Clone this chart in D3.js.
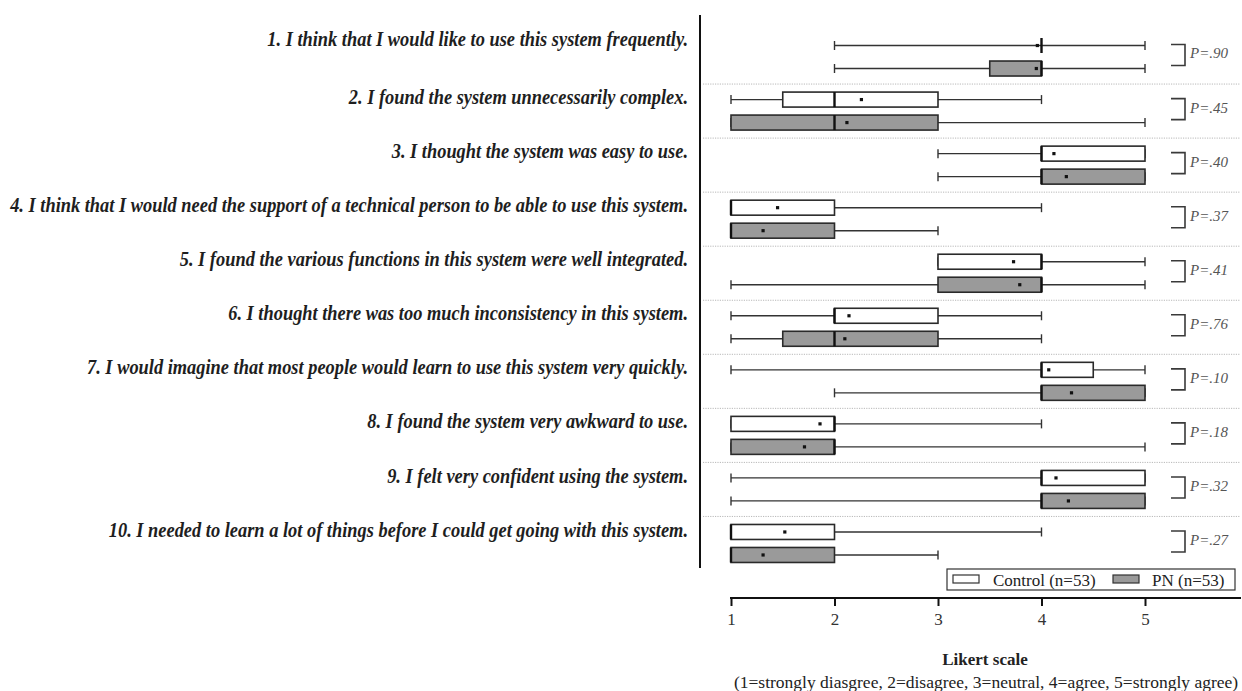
<!DOCTYPE html>
<html>
<head>
<meta charset="utf-8">
<script src="https://cdn.jsdelivr.net/npm/d3@7"></script>
<style>
  html, body { margin: 0; padding: 0; background: #fff; }
  svg { display: block; }
</style>
</head>
<body>
<svg id="chart" width="1242" height="691"></svg>
<script>
// SUS questionnaire items
const questions = [
  "1. I think that I would like to use this system frequently.",
  "2. I found the system unnecessarily complex.",
  "3. I thought the system was easy to use.",
  "4. I think that I would need the support of a technical person to be able to use this system.",
  "5. I found the various functions in this system were well integrated.",
  "6. I thought there was too much inconsistency in this system.",
  "7. I would imagine that most people would learn to use this system very quickly.",
  "8. I found the system very awkward to use.",
  "9. I felt very confident using the system.",
  "10. I needed to learn a lot of things before I could get going with this system."
];

const groups = ["Control (n=53)", "PN (n=53)"];
const likertTicks = [1, 2, 3, 4, 5];

// five-number summaries per item: [min, q1, median, q3, max]
const controlBox = [
  [2, 4, 4, 4, 5],
  [1, 1.5, 2, 3, 4],
  [3, 4, 4, 5, 5],
  [1, 1, 1, 2, 4],
  [3, 3, 4, 4, 5],
  [1, 2, 2, 3, 4],
  [1, 4, 4, 4.5, 5],
  [1, 1, 2, 2, 4],
  [1, 4, 4, 5, 5],
  [1, 1, 1, 2, 4]
];
const controlMean = [3.96, 2.26, 4.12, 1.45, 3.73, 2.14, 4.07, 1.86, 4.14, 1.52];

const pnBox = [
  [2, 3.5, 4, 4, 5],
  [1, 1, 2, 3, 5],
  [3, 4, 4, 5, 5],
  [1, 1, 1, 2, 3],
  [1, 3, 4, 4, 5],
  [1, 1.5, 2, 3, 4],
  [2, 4, 4, 5, 5],
  [1, 1, 2, 2, 5],
  [1, 4, 4, 5, 5],
  [1, 1, 1, 2, 3]
];
const pnMean = [3.95, 2.12, 4.24, 1.31, 3.79, 2.10, 4.29, 1.71, 4.26, 1.31];

const pValues = [".90", ".45", ".40", ".37", ".41", ".76", ".10", ".18", ".32", ".27"];

// ---- layout ----
const svg = d3.select("#chart");
const serif = "'Liberation Serif', 'Times New Roman', serif";
const fills = ["#ffffff", "#9a9a9a"];

const x = d3.scaleLinear().domain([1, 5]).range([731, 1145]);
const y = d3.scaleBand().domain(d3.range(questions.length)).range([30, 570.5]);
const yInner = d3.scalePoint().domain([0, 1]).range([-11.5, 11.5]);
const rowMid = i => y(i) + y.bandwidth() / 2;
const rowY = (i, g) => rowMid(i) + yInner(g);

const boxH = 15, capH = 9;

// dotted separators between items
svg.append("g")
  .selectAll("line")
  .data(d3.range(questions.length - 1))
  .join("line")
  .attr("x1", 703).attr("x2", 1240)
  .attr("y1", i => y(i) + y.bandwidth())
  .attr("y2", i => y(i) + y.bandwidth())
  .attr("stroke", "#b8b8b8")
  .attr("stroke-width", 1)
  .attr("stroke-dasharray", "1.2,1.2");

// vertical axis line
svg.append("line")
  .attr("x1", 700).attr("x2", 700)
  .attr("y1", 15).attr("y2", 568)
  .attr("stroke", "#111").attr("stroke-width", 2);

// item labels: tall, slightly condensed bold italic serif
svg.append("g")
  .selectAll("g")
  .data(questions)
  .join("g")
  .attr("transform", (d, i) => `translate(688,${rowY(i, 0) - (i === 0 ? 4 : 0)}) scale(0.92,1)`)
  .append("text")
  .attr("text-anchor", "end")
  .attr("dominant-baseline", "middle")
  .attr("font-family", serif)
  .attr("font-weight", "bold")
  .attr("font-style", "italic")
  .attr("font-size", 20)
  .attr("fill", "#1e1e1e")
  .text(d => d);

// boxplot records
const records = [];
questions.forEach((q, i) => {
  [controlBox, pnBox].forEach((src, g) => {
    const [mn, q1, med, q3, mx] = src[i];
    records.push({ i, g, mn, q1, med, q3, mx, mean: (g === 0 ? controlMean : pnMean)[i] });
  });
});

const plot = svg.append("g");
const box = plot.selectAll("g.box")
  .data(records)
  .join("g")
  .attr("class", "box")
  .attr("transform", d => `translate(0,${rowY(d.i, d.g)})`);

// whiskers
box.append("line")
  .attr("x1", d => x(d.mn)).attr("x2", d => x(d.mx))
  .attr("y1", 0).attr("y2", 0)
  .attr("stroke", "#333").attr("stroke-width", 1.4);
box.selectAll("line.cap")
  .data(d => [d.mn, d.mx])
  .join("line")
  .attr("class", "cap")
  .attr("x1", v => x(v)).attr("x2", v => x(v))
  .attr("y1", -capH / 2).attr("y2", capH / 2)
  .attr("stroke", "#333").attr("stroke-width", 1.4);

// interquartile boxes
box.filter(d => d.q3 > d.q1)
  .append("rect")
  .attr("x", d => x(d.q1))
  .attr("width", d => x(d.q3) - x(d.q1))
  .attr("y", -boxH / 2)
  .attr("height", boxH)
  .attr("fill", d => fills[d.g])
  .attr("stroke", "#2a2a2a")
  .attr("stroke-width", 1.6);

// medians
box.append("line")
  .attr("x1", d => x(d.med)).attr("x2", d => x(d.med))
  .attr("y1", -boxH / 2).attr("y2", boxH / 2)
  .attr("stroke", "#111").attr("stroke-width", 2.4);

// means
box.append("rect")
  .attr("x", d => x(d.mean) - 1.6)
  .attr("y", -1.6)
  .attr("width", 3.2).attr("height", 3.2)
  .attr("fill", "#111");

// p-value brackets
const pg = svg.append("g")
  .selectAll("g")
  .data(pValues)
  .join("g");
pg.append("path")
  .attr("d", (p, i) => {
    const t = rowY(i, 0) - 1, b = rowY(i, 1) - 3;
    return `M1171,${t}H1185V${b}H1171`;
  })
  .attr("fill", "none")
  .attr("stroke", "#3a3a3a")
  .attr("stroke-width", 1.6);
pg.append("text")
  .attr("x", 1190)
  .attr("y", (p, i) => (rowY(i, 0) + rowY(i, 1)) / 2 - 2)
  .attr("dominant-baseline", "middle")
  .attr("font-family", serif)
  .attr("font-style", "italic")
  .attr("font-size", 15)
  .attr("fill", "#555")
  .text(p => `P=${p}`);

// legend
const legend = svg.append("g");
legend.append("rect")
  .attr("x", 947).attr("y", 569)
  .attr("width", 288).attr("height", 21)
  .attr("fill", "#fff").attr("stroke", "#333").attr("stroke-width", 1.2);
const legendItems = [
  { label: groups[0], sx: 953, tx: 993 },
  { label: groups[1], sx: 1113, tx: 1152 }
];
legend.selectAll("rect.sw")
  .data(legendItems)
  .join("rect")
  .attr("class", "sw")
  .attr("x", d => d.sx).attr("y", 575)
  .attr("width", 26).attr("height", 8)
  .attr("fill", (d, k) => fills[k])
  .attr("stroke", "#333").attr("stroke-width", 1.2);
legend.selectAll("text")
  .data(legendItems)
  .join("text")
  .attr("x", d => d.tx).attr("y", 585.5)
  .attr("font-family", serif)
  .attr("font-size", 17)
  .attr("fill", "#222")
  .text(d => d.label);

// bottom Likert axis
const axisY = 598;
const axis = svg.append("g")
  .attr("transform", `translate(0,${axisY})`)
  .call(d3.axisBottom(x).tickValues(likertTicks).tickSize(8).tickSizeOuter(0).tickPadding(7).tickFormat(d3.format("d")));
axis.select(".domain").remove();
axis.append("line")
  .attr("x1", x.range()[0] - 1).attr("x2", 1241)
  .attr("stroke", "#111").attr("stroke-width", 2);
axis.selectAll(".tick line").attr("stroke", "#111").attr("stroke-width", 2);
axis.selectAll(".tick text")
  .attr("font-family", serif)
  .attr("font-size", 17)
  .attr("fill", "#333");

svg.append("text")
  .attr("x", 985).attr("y", 665)
  .attr("text-anchor", "middle")
  .attr("font-family", serif)
  .attr("font-weight", "bold")
  .attr("font-size", 17)
  .attr("fill", "#222")
  .text("Likert scale");

svg.append("text")
  .attr("x", 986).attr("y", 688)
  .attr("text-anchor", "middle")
  .attr("font-family", serif)
  .attr("font-size", 17.5)
  .attr("fill", "#222")
  .text("(1=strongly diasgree, 2=disagree, 3=neutral, 4=agree, 5=strongly agree)");
</script>
</body>
</html>
